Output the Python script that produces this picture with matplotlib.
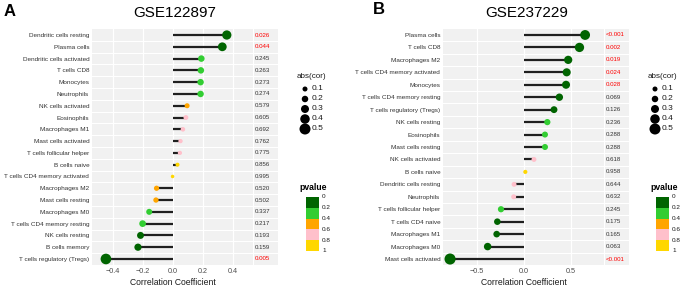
import matplotlib
matplotlib.use('Agg')
import matplotlib.pyplot as plt
from matplotlib.patches import Rectangle
import numpy as np

plt.rcParams['font.family'] = ['Liberation Sans', 'DejaVu Sans']

# ---------------- data ----------------
cells_a = ["Dendritic cells resting", "Plasma cells", "Dendritic cells activated", "T cells CD8",
           "Monocytes", "Neutrophils", "NK cells activated", "Eosinophils", "Macrophages M1",
           "Mast cells activated", "T cells follicular helper", "B cells naive",
           "T cells CD4 memory activated", "Macrophages M2", "Mast cells resting", "Macrophages M0",
           "T cells CD4 memory resting", "NK cells resting", "B cells memory",
           "T cells regulatory (Tregs)"]
cor_a = [0.36, 0.33, 0.19, 0.187, 0.185, 0.185, 0.095, 0.087, 0.067, 0.051, 0.047, 0.031,
         -0.002, -0.109, -0.113, -0.158, -0.202, -0.216, -0.233, -0.447]
pval_a = [0.026, 0.044, 0.245, 0.263, 0.273, 0.274, 0.579, 0.605, 0.692, 0.762, 0.775, 0.856,
          0.995, 0.520, 0.502, 0.337, 0.217, 0.193, 0.159, 0.005]
plab_a = ["0.026", "0.044", "0.245", "0.263", "0.273", "0.274", "0.579", "0.605", "0.692",
          "0.762", "0.775", "0.856", "0.995", "0.520", "0.502", "0.337", "0.217", "0.193",
          "0.159", "0.005"]

cells_b = ["Plasma cells", "T cells CD8", "Macrophages M2", "T cells CD4 memory activated",
           "Monocytes", "T cells CD4 memory resting", "T cells regulatory (Tregs)",
           "NK cells resting", "Eosinophils", "Mast cells resting", "NK cells activated",
           "B cells naive", "Dendritic cells resting", "Neutrophils", "T cells follicular helper",
           "T cells CD4 naive", "Macrophages M1", "Macrophages M0", "Mast cells activated"]
cor_b = [0.65, 0.59, 0.47, 0.454, 0.447, 0.376, 0.319, 0.248, 0.223, 0.223, 0.106, 0.014,
         -0.106, -0.11, -0.245, -0.284, -0.291, -0.387, -0.787]
pval_b = [0.0005, 0.002, 0.019, 0.024, 0.028, 0.069, 0.126, 0.236, 0.288, 0.288, 0.618, 0.958,
          0.644, 0.632, 0.245, 0.175, 0.165, 0.063, 0.0005]
plab_b = ["<0.001", "0.002", "0.019", "0.024", "0.028", "0.069", "0.126", "0.236", "0.288",
          "0.288", "0.618", "0.958", "0.644", "0.632", "0.245", "0.175", "0.165", "0.063",
          "<0.001"]

xticks_a = [-0.4, -0.2, 0.0, 0.2, 0.4]
xticks_b = [-0.5, 0.0, 0.5]
size_levels = [0.1, 0.2, 0.3, 0.4, 0.5]
p_breaks = [0, 0.2, 0.4, 0.6, 0.8, 1]
p_colors = ["#006400", "#32CD32", "#FFA500", "#FFC0CB", "#FFD700"]

# ---------------- layout helpers ----------------
W, H = 685, 288
fig = plt.figure(figsize=(W / 100, H / 100), dpi=100)


def frac(x0, y0, x1, y1):
    return [x0 / W, 1 - y1 / H, (x1 - x0) / W, (y1 - y0) / H]


def pcol(p):
    for k in range(5):
        if p <= p_breaks[k + 1]:
            return p_colors[k]
    return p_colors[-1]


def dpx_to_s(d):
    return (np.asarray(d) * 0.72) ** 2


BG = '#F1F1F1'


def panel(x0, x1, cells, cor, pval, plab, xlim, xticks, sizef, pad_rows):
    n = len(cells)
    y = np.arange(n)
    ax = fig.add_axes(frac(x0, 29, x1, 265))
    ax.set_facecolor(BG)
    for s in ax.spines.values():
        s.set_visible(False)
    ax.set_xlim(*xlim)
    ax.set_ylim(n - 1 + pad_rows, -pad_rows)
    for xt in xticks:
        ax.axvline(xt, color='white', lw=0.9, zorder=0.5)
    for i in range(n - 1):
        ax.axhline(i + 0.5, color='white', lw=0.8, zorder=0.5)
    ax.hlines(y, 0, cor, color='#1f1f1f', lw=1.6, zorder=2)
    d = sizef(np.abs(np.array(cor)))
    ax.scatter(cor, y, s=dpx_to_s(d), c=[pcol(p) for p in pval], edgecolors='none', zorder=3)
    ax.set_yticks(y)
    ax.set_yticklabels(cells, fontsize=4.6, color='#333333')
    ax.set_xticks(xticks)
    ax.set_xticklabels([f"{t:.1f}".replace('-', '\u2212') for t in xticks], fontsize=5.2,
                       color='#4D4D4D')
    ax.tick_params(length=0, pad=2)
    ax.set_xlabel("Correlation Coefficient", fontsize=6.2, color='#1a1a1a', labelpad=2)

    pax = fig.add_axes(frac(x1 + 1, 29, x1 + 25, 265))
    pax.set_facecolor(BG)
    for s in pax.spines.values():
        s.set_visible(False)
    pax.set_xlim(0, 1)
    pax.set_ylim(n - 1 + pad_rows, -pad_rows)
    pax.set_xticks([])
    pax.set_yticks([])
    for i in range(n - 1):
        pax.axhline(i + 0.5, color='white', lw=0.8)
    for i, (p, lab) in enumerate(zip(pval, plab)):
        pax.text(0.05, i, lab, fontsize=4.4, va='center', ha='left',
                 color='#FF0000' if p < 0.05 else '#333333')
    return ax


panel(92, 253, cells_a, cor_a, pval_a, plab_a, (-0.54, 0.535), xticks_a,
      lambda v: 3.5 + 16 * v, 0.51)
panel(443, 604, cells_b, cor_b, pval_b, plab_b, (-0.862, 0.851), xticks_b,
      lambda v: 4.0 + 9 * v, 0.48)

# titles
fig.text(175 / W, 1 - 13 / H, "GSE122897", fontsize=11, ha='center', va='center')
fig.text(527 / W, 1 - 13 / H, "GSE237229", fontsize=11, ha='center', va='center')
fig.text(4 / W, 1 - 11 / H, "A", fontsize=12, weight='bold', ha='left', va='center')
fig.text(373 / W, 1 - 10 / H, "B", fontsize=12, weight='bold', ha='left', va='center')

# legends
lax = fig.add_axes([0, 0, 1, 1])
lax.set_xlim(0, W)
lax.set_ylim(H, 0)
lax.axis('off')
lax.patch.set_visible(False)


def legends(tx, dotx, ptx, barx):
    lax.text(tx, 76, "abs(cor)", fontsize=5.8, ha='left', va='center', color='#1a1a1a')
    for k, v in enumerate(size_levels):
        yy = 89 + 10 * k
        lax.scatter([dotx], [yy], s=dpx_to_s(3.5 + 15 * v), color='black', edgecolors='none')
        lax.text(dotx + 7, yy, f"{v:.1f}", fontsize=6, ha='left', va='center', color='#1a1a1a')
    lax.text(ptx, 187, "pvalue", fontsize=6.2, weight='bold', ha='left', va='center')
    h = (251 - 197) / 5
    for k, c in enumerate(p_colors):
        lax.add_patch(Rectangle((barx, 197 + k * h), 13, h, facecolor=c, edgecolor='none'))
    for k, b in enumerate(p_breaks):
        lax.text(barx + 16, 197 + k * h, f"{b:g}", fontsize=4.6, ha='left', va='center',
                 color='#1a1a1a')


legends(297, 305, 299, 306)
legends(648, 655, 650, 656)

fig.savefig("out.png", dpi=100)
